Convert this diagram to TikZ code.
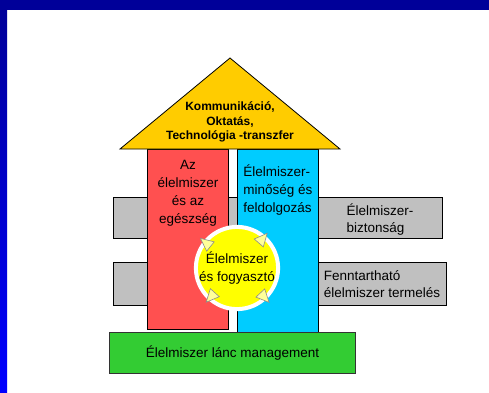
\documentclass[tikz,border=0pt]{standalone}
\usepackage{fontspec}
\setmainfont{Liberation Sans}
\usetikzlibrary{positioning,shapes.geometric,calc}
\definecolor{frametop}{RGB}{0,0,153}
\definecolor{framebottom}{RGB}{0,0,255}
\definecolor{roofyellow}{RGB}{255,204,0}
\definecolor{healthred}{RGB}{255,80,80}
\definecolor{foodblue}{RGB}{0,204,255}
\definecolor{chaingreen}{RGB}{51,204,51}
\definecolor{bargray}{RGB}{192,192,192}
\definecolor{discyellow}{RGB}{255,255,0}
\definecolor{pointeryellow}{RGB}{255,255,153}
\tikzset{
  every node/.style={font=\fontsize{13.5}{18}\selectfont},
  bar/.style={draw=black, fill=bargray, line width=.8pt, minimum height=41pt,
    anchor=north west, inner sep=0pt},
  pillar/.style={draw=black, fill=#1, line width=.8pt, minimum width=81pt,
    minimum height=180pt, anchor=north west, inner sep=0pt},
  pointer/.style={isosceles triangle, isosceles triangle apex angle=50,
    draw=black!45, fill=pointeryellow, line width=.6pt, inner sep=0pt,
    minimum size=12pt, rotate=#1},
}
\begin{document}
\begin{tikzpicture}[x=1pt,y=-1pt]
\useasboundingbox (0,0) rectangle (489,392);
\fill[frametop] (0,0) rectangle (489,10);
\shade[top color=frametop, bottom color=framebottom] (0,10) rectangle (7,392);
% bars behind the house
\node[bar, minimum width=329pt] (safety) at (113,197) {};
\node[bar, minimum width=333pt, minimum height=43pt] (sustain) at (113,262) {};
\node[align=left, font=\fontsize{13.5}{17}\selectfont] (safetytext) at (380,220) {Élelmiszer-\\biztonság};
\node[align=left, font=\fontsize{13.5}{17}\selectfont] (sustaintext) at (382,284) {Fenntartható\\élelmiszer termelés};
% pillars
\node[pillar=healthred] (health) at (147,149) {};
\node[pillar=foodblue, minimum height=183pt] (quality) at (237,149) {};
\node[align=center, below=8pt of health.north] (healthtext) {Az\\élelmiszer\\és az\\egészség};
\node[align=left, below=12pt of quality.north] (qualitytext) {Élelmiszer-\\minőség és\\feldolgozás};
% centre disc
\node[circle, fill=discyellow, draw=white, line width=4pt, minimum size=80pt,
  inner sep=0pt, align=center] (consumer) at (237,268) {Élelmiszer\\és fogyasztó};
\foreach \a/\r in {141/38,49/37,228/37,313/38}
  \node[pointer=\a] at ($(consumer.center)+(\a:\r pt)$) {};
% roof
\draw[fill=roofyellow, line width=.8pt] (120,149) coordinate (eaveL) -- (230,58) coordinate (apex)
  -- (340,149) coordinate (eaveR) -- cycle;
\node[font=\bfseries\fontsize{12}{14.5}\selectfont, align=center] (roof) at (230,122)
  {Kommunikáció,\\Oktatás,\\Technológia -transzfer};
% base
\node[draw=black!80, fill=chaingreen, line width=1pt, minimum width=246pt,
  minimum height=41pt, anchor=north west] (chain) at (109,332) {Élelmiszer lánc management};
\end{tikzpicture}
\end{document}
